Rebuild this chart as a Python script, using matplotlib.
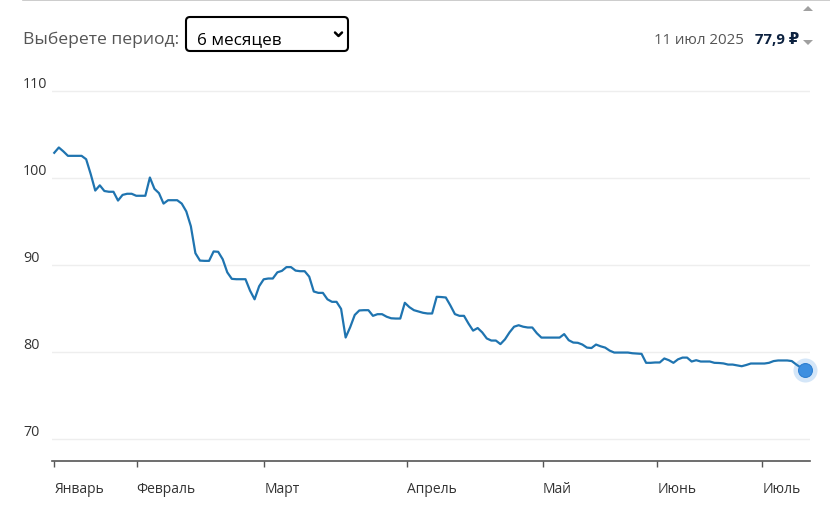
import matplotlib
matplotlib.use("Agg")
import matplotlib.pyplot as plt
from matplotlib.patches import FancyBboxPatch, Polygon

plt.rcParams["font.family"] = ["Open Sans", "DejaVu Sans"]

# курс, ₽ (по точкам графика)
values = [
    102.84, 103.45, 103.0, 102.49, 102.49, 102.49, 102.49, 102.1, 100.4, 98.5,
    99.1, 98.45, 98.36, 98.36, 97.35, 98.0, 98.13, 98.13, 97.9, 97.9,
    97.9, 100.0, 98.7, 98.2, 97.0, 97.39, 97.39, 97.39, 97.0, 96.1,
    94.4, 91.3, 90.45, 90.42, 90.42, 91.5, 91.46, 90.6, 89.1, 88.35,
    88.31, 88.31, 88.31, 87.0, 86.0, 87.5, 88.3, 88.39, 88.39, 89.1,
    89.27, 89.7, 89.7, 89.3, 89.23, 89.23, 88.6, 86.9, 86.74, 86.74,
    86.0, 85.71, 85.71, 84.9, 81.61, 82.8, 84.2, 84.72, 84.75, 84.75,
    84.1, 84.29, 84.29, 84.0, 83.82, 83.79, 83.79, 85.6, 85.1, 84.75,
    84.6, 84.45, 84.37, 84.37, 86.29, 86.26, 86.21, 85.3, 84.3, 84.1,
    84.1, 83.2, 82.4, 82.7, 82.2, 81.5, 81.26, 81.26, 80.85, 81.4,
    82.2, 82.85, 83.02, 82.85, 82.76, 82.76, 82.1, 81.6, 81.6, 81.6,
    81.6, 81.6, 82.0, 81.3, 81.03, 81.0, 80.8, 80.45, 80.4, 80.8,
    80.6, 80.45, 80.1, 79.88, 79.88, 79.88, 79.88, 79.8, 79.76, 79.73,
    78.7, 78.7, 78.74, 78.74, 79.2, 79.0, 78.7, 79.1, 79.3, 79.3,
    78.85, 79.0, 78.85, 78.85, 78.85, 78.7, 78.68, 78.63, 78.5, 78.5,
    78.4, 78.31, 78.45, 78.62, 78.62, 78.62, 78.62, 78.7, 78.9, 78.97,
    78.97, 78.97, 78.9, 78.5, 78.15, 77.9,
]
months = ["Январь", "Февраль", "Март", "Апрель", "Май", "Июнь", "Июль"]
month_pos = [0, 18.1, 46.15, 77.4, 107.3, 132.5, 155.5]
yticks = [70, 80, 90, 100, 110]

W, H = 830, 506
fig = plt.figure(figsize=(W / 100, H / 100), dpi=100)

ax_l, ax_r, ax_t, ax_b = 52, 810, 87.15, 461.7
ax = fig.add_axes([ax_l / W, 1 - ax_b / H, (ax_r - ax_l) / W, (ax_b - ax_t) / H])

x = list(range(len(values)))
ax.plot(x, values, color="#1f74b0", lw=1.6, solid_joinstyle="round", zorder=3)
ax.scatter([x[-1]], [values[-1]], s=300, color="#3d8fe0", alpha=0.22,
           lw=0, zorder=4, clip_on=False)
ax.scatter([x[-1]], [values[-1]], s=100, color="#3d8fe0", lw=0.8,
           edgecolor="#2f7fd0", zorder=5, clip_on=False)

ax.set_xlim(-0.5, 166.0)
ax.set_ylim(67.45, 110.5)

for v in yticks:
    ax.axhline(v, color="#eeeeee", lw=1, zorder=1)
    ax.text(-0.0383, v, str(v), transform=ax.get_yaxis_transform(),
            ha="left", va="bottom", fontsize=10.3, color="#333333")
ax.set_yticks([])

ax.set_xticks(month_pos)
ax.set_xticklabels(months, ha="left", fontsize=10, color="#333333")
ax.tick_params(axis="x", length=4, width=1, color="#555555", pad=10.5)

for s in ["top", "right", "left"]:
    ax.spines[s].set_visible(False)
ax.spines["bottom"].set_color("#555555")
ax.spines["bottom"].set_linewidth(1.2)

# шапка
hd = fig.add_axes([0, 0, 1, 1], zorder=10)
hd.set_xlim(0, W)
hd.set_ylim(H, 0)
hd.axis("off")
hd.plot([23, W], [0.8, 0.8], color="#c4c4c4", lw=1.2)
hd.text(23, 44, "Выберете период:", fontsize=12.6, color="#555555", va="baseline")
hd.add_patch(FancyBboxPatch((186, 18), 162, 34,
                            boxstyle="round,pad=0,rounding_size=4",
                            fc="white", ec="black", lw=1.5))
hd.text(197, 44, "6 месяцев", fontsize=12.3, color="black", va="baseline")
hd.plot([335, 338.5, 342], [33.5, 37, 33.5], color="black", lw=1.8,
        solid_capstyle="round")
hd.text(744, 44, "11 июл 2025", fontsize=10.8, color="#555555",
        va="baseline", ha="right")
hd.text(799, 44, "77,9 ₽", fontsize=10.8, color="#0d2240", fontweight="bold",
        va="baseline", ha="right")
hd.add_patch(Polygon([[803, 12], [813, 12], [808, 7]], closed=True,
                     fc="#a0a0a0", ec="none"))
hd.add_patch(Polygon([[803, 41], [813, 41], [808, 46]], closed=True,
                     fc="#a0a0a0", ec="none"))

fig.savefig("out.png", dpi=100)
